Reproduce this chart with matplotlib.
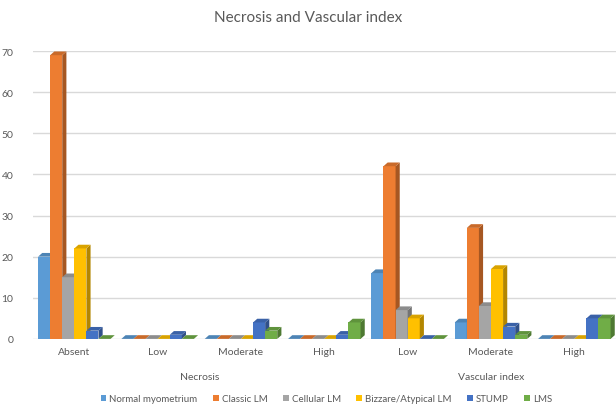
import matplotlib
matplotlib.use("Agg")
import matplotlib.pyplot as plt
from matplotlib.patches import Polygon
import matplotlib.colors as mcolors
import numpy as np

plt.rcParams['font.family'] = ['Lato', 'DejaVu Sans']

categories = ["Absent", "Low", "Moderate", "High", "Low", "Moderate", "High"]
groups = ["Necrosis", "Vascular index"]
group_sizes = [4, 3]
series = ["Normal myometrium", "Classic LM", "Cellular LM", "Bizzare/Atypical LM", "STUMP", "LMS"]
normal_myometrium = [20, 0, 0, 0, 16, 4, 0]
classic_lm = [69, 0, 0, 0, 42, 27, 0]
cellular_lm = [15, 0, 0, 0, 7, 8, 0]
bizzare_lm = [22, 0, 0, 0, 5, 17, 0]
stump = [2, 1, 4, 1, 0, 3, 5]
lms = [0, 0, 2, 4, 0, 1, 5]
values = [normal_myometrium, classic_lm, cellular_lm, bizzare_lm, stump, lms]
colors = ["#5B9BD5", "#ED7D31", "#A5A5A5", "#FFC000", "#4472C4", "#70AD47"]
yticks = [0, 10, 20, 30, 40, 50, 60, 70]

txt = "#595959"
fig = plt.figure(figsize=(6.16, 4.10), dpi=100)
ax = fig.add_axes([0.053, 0.171, 0.947, 0.702])

x = np.arange(len(categories))
w = 0.145
dx, dy = 0.05, 0.9

def shade(c, f):
    r, g, b = mcolors.to_rgb(c)
    return (r * f, g * f, b * f)

def lighten(c, f):
    r, g, b = mcolors.to_rgb(c)
    return (r + (1 - r) * f, g + (1 - g) * f, b + (1 - b) * f)

for i, (name, vals, col) in enumerate(zip(series, values, colors)):
    xs = x + (i - 2.5) * w
    ax.bar(xs, vals, width=w, color=col, label=name, zorder=3 + i * 0.01, linewidth=0)
    for xc, v in zip(xs, vals):
        x0, x1 = xc - w / 2, xc + w / 2
        side = Polygon([(x1, 0), (x1 + dx, dy), (x1 + dx, v + dy), (x1, v)],
                       closed=True, facecolor=shade(col, 0.7), edgecolor='none', zorder=3 + i * 0.01)
        top = Polygon([(x0, v), (x1, v), (x1 + dx, v + dy), (x0 + dx, v + dy)],
                      closed=True, facecolor=shade(col, 0.85), edgecolor='none', zorder=3 + i * 0.01)
        ax.add_patch(side)
        ax.add_patch(top)

ax.set_xlim(-0.5, 6.5)
ax.set_ylim(0, 70)
ax.set_yticks(yticks)
ax.yaxis.grid(True, color="#D9D9D9", linewidth=1, zorder=0)
ax.set_axisbelow(True)
for s in ax.spines.values():
    s.set_visible(False)
ax.tick_params(axis='y', length=0, labelsize=7.5, labelcolor=txt, pad=14)
ax.set_xticks(x)
ax.set_xticklabels(categories)
ax.tick_params(axis='x', length=0, labelsize=7.5, labelcolor=txt, pad=6)

# group labels
start = 0
for g, n in zip(groups, group_sizes):
    center = start + (n - 1) / 2
    ax.text(center, -0.13, g, transform=ax.get_xaxis_transform(), ha='center', va='center',
            fontsize=7.5, color=txt)
    start += n

fig.text(0.5, 0.955, "Necrosis and Vascular index", ha='center', va='center', fontsize=11, color=txt)

handles, labels = ax.get_legend_handles_labels()
fig.legend(handles, labels, loc='center', bbox_to_anchor=(0.53, 0.025), ncol=6, frameon=False,
           fontsize=7, labelcolor=txt, handlelength=0.6, handleheight=0.6, handletextpad=0.3,
           columnspacing=1.6)

fig.savefig("out.png", dpi=100)
